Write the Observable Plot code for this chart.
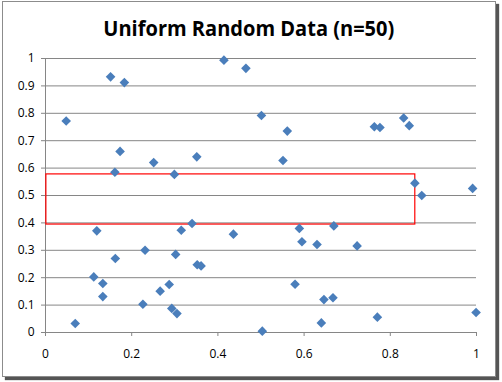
<!DOCTYPE html>
<html>
<head>
<meta charset="utf-8">
<script src="https://cdn.jsdelivr.net/npm/d3@7"></script>
<script src="https://cdn.jsdelivr.net/npm/@observablehq/plot@0.6"></script>
<style>
  html, body { margin: 0; padding: 0; background: #fff; }
  #wrap { position: relative; width: 502px; height: 382px; overflow: hidden; background: #fff; }
  #frame { position: absolute; left: 2px; top: 1px; width: 492px; height: 374px;
           border: 1px solid #8c8c8c; box-shadow: 3px 3px 1px #555; background: #fff; }
  #title { position: absolute; left: 0; top: 16px; width: 497px; text-align: center;
           font-family: "Open Sans", sans-serif; font-weight: 700; font-size: 22px;
           line-height: 22px; color: #000; white-space: nowrap; }
  #title span { display: inline-block; transform-origin: 50% 50%; }
  #chart { position: absolute; left: 0; top: 0; }
  #chart svg [aria-label$="axis"] line,
  #chart svg [aria-label$="axis tick"] path,
  #chart svg [aria-label$="axis tick"] { stroke: #868686; }
</style>
</head>
<body>
<div id="wrap">
  <div id="frame"></div>
  <div id="title"><span>Uniform Random Data (n=50)</span></div>
  <div id="chart"></div>
</div>
<script>
// Data
const xs = [0.048, 0.069, 0.151, 0.183, 0.173, 0.161, 0.119, 0.112, 0.133, 0.133,
            0.162, 0.251, 0.299, 0.351, 0.414, 0.465, 0.501, 0.561, 0.551, 0.231,
            0.226, 0.266, 0.287, 0.293, 0.305, 0.302, 0.315, 0.340, 0.352, 0.361,
            0.436, 0.503, 0.579, 0.589, 0.595, 0.630, 0.640, 0.646, 0.667, 0.669,
            0.723, 0.763, 0.776, 0.831, 0.844, 0.770, 0.857, 0.873, 0.991, 0.999];
const ys = [0.772, 0.033, 0.933, 0.912, 0.661, 0.585, 0.371, 0.203, 0.179, 0.131,
            0.270, 0.620, 0.577, 0.641, 0.994, 0.964, 0.792, 0.735, 0.628, 0.300,
            0.103, 0.151, 0.175, 0.088, 0.069, 0.285, 0.373, 0.398, 0.247, 0.243,
            0.359, 0.005, 0.176, 0.380, 0.331, 0.321, 0.035, 0.120, 0.127, 0.389,
            0.316, 0.751, 0.748, 0.783, 0.755, 0.056, 0.545, 0.500, 0.526, 0.073];
const boxX = [0.002, 0.858];
const boxY = [0.394, 0.577];
const xTicks = [0, 0.2, 0.4, 0.6, 0.8, 1];
const yTicks = [0, 0.1, 0.2, 0.3, 0.4, 0.5, 0.6, 0.7, 0.8, 0.9, 1];

const points = xs.map((x, i) => ({x, y: ys[i]}));
const box = [{x1: boxX[0], x2: boxX[1], y1: boxY[0], y2: boxY[1]}];
const fmt = d => String(+d.toFixed(1));

// rotated-square diamond, r = half-diagonal
const diamond = {
  draw(ctx, size) {
    const r = Math.sqrt(size / Math.PI);
    ctx.moveTo(0, -r); ctx.lineTo(r, 0); ctx.lineTo(0, r); ctx.lineTo(-r, 0); ctx.closePath();
  }
};

const chart = Plot.plot({
  width: 502,
  height: 382,
  marginLeft: 45,
  marginRight: 26,
  marginTop: 58,
  marginBottom: 50,
  style: {fontFamily: "Open Sans, sans-serif", fontSize: "12px", color: "#000", background: "transparent", overflow: "visible"},
  x: {domain: [0, 1], ticks: xTicks, tickSize: 4, tickPadding: 13, tickFormat: fmt, label: null},
  y: {domain: [0, 1], ticks: yTicks, tickSize: 4, tickPadding: 7, tickFormat: fmt, label: null},
  marks: [
    Plot.ruleY(yTicks, {stroke: "#868686", strokeWidth: 1}),
    Plot.ruleX([0], {stroke: "#868686", strokeWidth: 1}),
    Plot.rect(box, {x1: "x1", x2: "x2", y1: "y1", y2: "y2", fill: "none", stroke: "#ff0000", strokeWidth: 1.2}),
    Plot.dot(points, {x: "x", y: "y", symbol: diamond, r: 4.8, fill: "#4a7ebb", stroke: "none"})
  ]
});
document.getElementById("chart").appendChild(chart);

// fit title width to the reference's ~291px
const span = document.querySelector("#title span");
const w = span.getBoundingClientRect().width;
if (w > 0) span.style.transform = `scaleX(${291 / w})`;
</script>
</body>
</html>
